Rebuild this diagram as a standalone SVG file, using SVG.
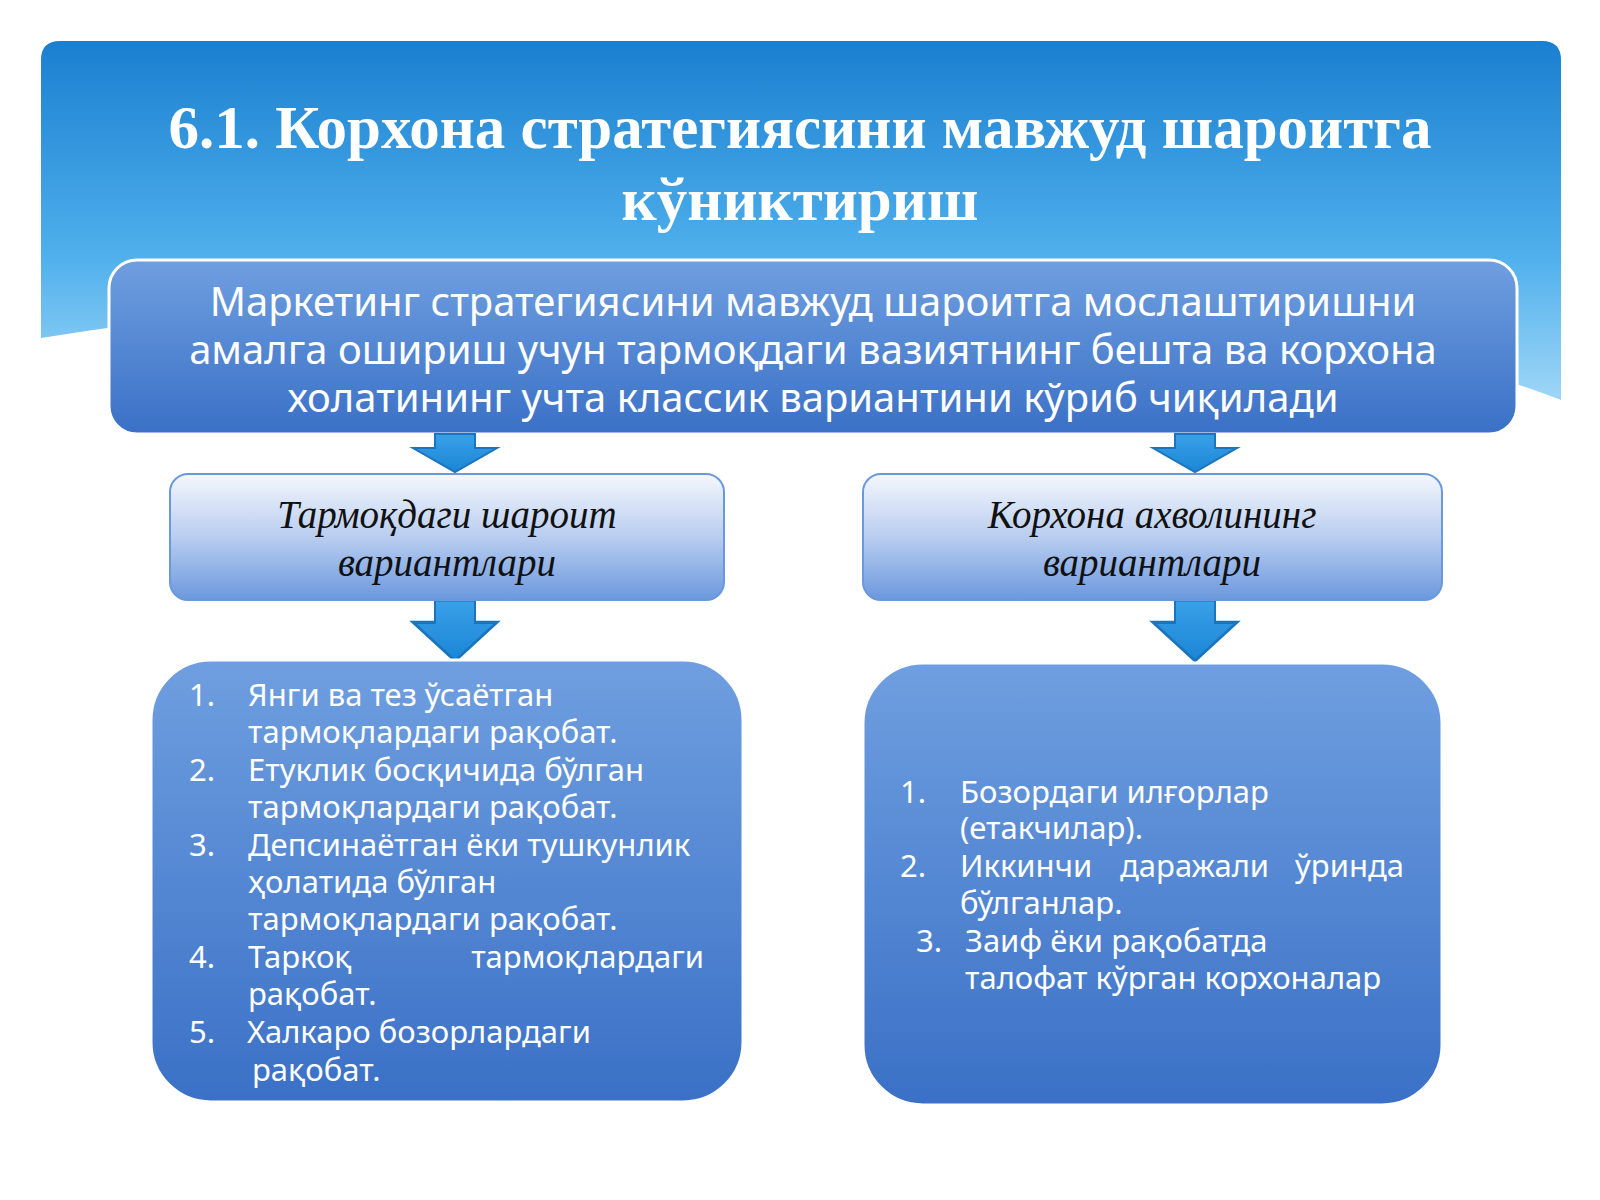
<svg xmlns="http://www.w3.org/2000/svg" width="1600" height="1200" viewBox="0 0 1600 1200">
<defs>
<linearGradient id="hdr" x1="0" y1="0" x2="0" y2="1"><stop offset="0" stop-color="#1a7fd0"/><stop offset="0.6" stop-color="#4fb0ec"/><stop offset="1" stop-color="#9fd6f7"/></linearGradient>
<linearGradient id="bx" x1="0" y1="0" x2="0" y2="1"><stop offset="0" stop-color="#6f9fe0"/><stop offset="1" stop-color="#3a70c6"/></linearGradient>
<linearGradient id="mid" x1="0" y1="0" x2="0" y2="1"><stop offset="0" stop-color="#f4f7fd"/><stop offset="0.5" stop-color="#b9cdf0"/><stop offset="1" stop-color="#6a98de"/></linearGradient>
<linearGradient id="ar" x1="0" y1="0" x2="0" y2="1"><stop offset="0" stop-color="#3aa0e8"/><stop offset="1" stop-color="#1a86d6"/></linearGradient>
<path id="arrow" d="M-20,0 H20 V14 H42 L0,38 L-42,14 H-20 Z"/>
</defs>
<style>
.t{font-family:"Liberation Serif",serif;font-weight:bold;fill:#fff;font-size:61px;text-anchor:middle}
.top{font-family:"Noto Sans","Open Sans",sans-serif;fill:#fff;font-size:40px;text-anchor:middle}
.m{font-family:"Liberation Serif",serif;font-style:italic;fill:#111;font-size:39px;text-anchor:middle}
.l{font-family:"Noto Sans","Open Sans",sans-serif;fill:#fff;font-size:31px}
.box{fill:url(#bx);stroke:#fff;stroke-width:3}
.arr{fill:url(#ar);stroke:#1b75bc;stroke-width:2}
</style>
<rect width="1600" height="1200" fill="#fff"/>
<path d="M41,60 Q41,41 60,41 H1542 Q1561,41 1561,60 V400 Q1300,300 900,290 Q400,280 41,338 Z" fill="url(#hdr)"/>
<g id="title"><text class="t" x="800" y="148">6.1. Корхона стратегиясини мавжуд шароитга</text><text class="t" x="800" y="220">кўниктириш</text></g>
<g id="topbox"><rect class="box" x="109" y="260" width="1408" height="174" rx="28"/>
<text class="top" x="813" y="316">Маркетинг стратегиясини мавжуд шароитга мослаштиришни</text>
<text class="top" x="813" y="364">амалга ошириш учун тармоқдаги вазиятнинг бешта ва корхона</text>
<text class="top" x="813" y="412">холатининг учта классик вариантини кўриб чиқилади</text></g>
<g id="connectors">
<use href="#arrow" class="arr" x="455" y="434"/>
<use href="#arrow" class="arr" x="1195" y="434"/>
<g transform="translate(455,600) scale(1,1.6)"><use href="#arrow" class="arr"/></g>
<g transform="translate(1195,600) scale(1,1.6)"><use href="#arrow" class="arr"/></g>
</g>
<g id="mid-left"><rect x="170" y="474" width="554" height="126" rx="18" fill="url(#mid)" stroke="#6a98de" stroke-width="2"/>
<text class="m" x="447" y="528">Тармоқдаги шароит</text><text class="m" x="447" y="576">вариантлари</text></g>
<g id="mid-right"><rect x="863" y="474" width="579" height="126" rx="18" fill="url(#mid)" stroke="#6a98de" stroke-width="2"/>
<text class="m" x="1152" y="528">Корхона ахволининг</text><text class="m" x="1152" y="576">вариантлари</text></g>
<g id="list-left"><rect class="box" x="151" y="660" width="592" height="442" rx="60"/>
<text class="l" x="189" y="706">1.</text><text class="l" x="248" y="706">Янги ва тез ўсаётган</text>
<text class="l" x="248" y="743">тармоқлардаги рақобат.</text>
<text class="l" x="189" y="781">2.</text><text class="l" x="248" y="781">Етуклик босқичида бўлган</text>
<text class="l" x="248" y="818">тармоқлардаги рақобат.</text>
<text class="l" x="189" y="856">3.</text><text class="l" x="248" y="856">Депсинаётган ёки тушкунлик</text>
<text class="l" x="248" y="893">ҳолатида бўлган</text>
<text class="l" x="248" y="930">тармоқлардаги рақобат.</text>
<text class="l" x="189" y="968">4.</text><text class="l" x="248" y="968">Таркоқ</text><text class="l" x="704" y="968" text-anchor="end">тармоқлардаги</text>
<text class="l" x="248" y="1005">рақобат.</text>
<text class="l" x="189" y="1043">5.</text><text class="l" x="247" y="1043">Халкаро бозорлардаги</text>
<text class="l" x="252" y="1081">рақобат.</text></g>
<g id="list-right"><rect class="box" x="863" y="663" width="579" height="442" rx="60"/>
<text class="l" x="900" y="803">1.</text><text class="l" x="960" y="803">Бозордаги илғорлар</text>
<text class="l" x="960" y="839">(етакчилар).</text>
<text class="l" x="900" y="877">2.</text><text class="l" x="960" y="877">Иккинчи</text><text class="l" x="1120" y="877">даражали</text><text class="l" x="1404" y="877" text-anchor="end">ўринда</text>
<text class="l" x="960" y="914">бўлганлар.</text>
<text class="l" x="916" y="952">3.</text><text class="l" x="965" y="952">Заиф ёки рақобатда</text>
<text class="l" x="965" y="989">талофат кўрган корхоналар</text></g>
</svg>
